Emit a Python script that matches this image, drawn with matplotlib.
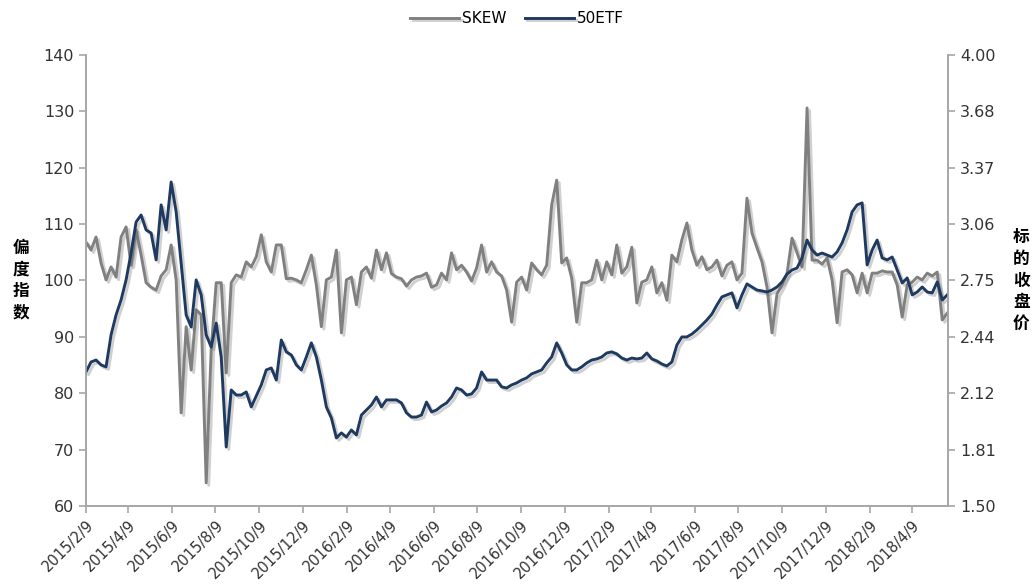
import matplotlib
matplotlib.use('Agg')
import matplotlib.pyplot as plt
import matplotlib.dates as mdates
import matplotlib.patheffects as pe
from matplotlib.ticker import FixedLocator, FuncFormatter
import pandas as pd

# weekly samples, starting 2015/2/9
start_date = '2015-02-09'

skew = [106.8, 105.4, 107.7, 103.1, 100.1, 102.4, 100.6, 107.7, 109.5, 102.7,
        109.0, 104.5, 99.6, 98.8, 98.3, 100.8, 101.9, 106.3, 100.1, 76.5,
        91.8, 84.1, 94.8, 93.9, 64.1, 87.7, 99.6, 99.6, 83.6, 99.6,
        101.0, 100.6, 103.3, 102.4, 104.2, 108.1, 103.3, 101.5, 106.3, 106.3,
        100.3, 100.4, 100.1, 99.6, 101.9, 104.5, 99.2, 91.8, 100.1, 100.6,
        105.4, 90.7, 100.1, 100.6, 95.7, 101.5, 102.4, 100.4, 105.4, 101.9,
        104.9, 101.2, 100.6, 100.3, 99.0, 100.1, 100.6, 100.8, 101.3, 98.8,
        99.2, 101.3, 100.1, 104.9, 101.9, 102.7, 101.5, 99.9, 102.2, 106.3,
        101.5, 103.3, 101.5, 100.8, 98.3, 92.6, 99.7, 100.6, 98.3, 103.1,
        101.9, 101.0, 102.7, 113.4, 117.8, 103.1, 104.0, 100.4, 92.6, 99.6,
        99.6, 100.1, 103.6, 100.1, 103.3, 101.0, 106.3, 101.3, 102.4, 105.9,
        96.0, 99.7, 100.1, 102.4, 97.8, 99.6, 96.5, 104.5, 103.3, 107.2,
        110.2, 105.4, 102.7, 104.2, 101.9, 102.4, 103.6, 100.8, 102.7, 103.3,
        100.1, 101.3, 114.6, 108.4, 105.8, 103.3, 98.8, 90.7, 97.6, 99.2,
        101.2, 107.5, 104.9, 102.4, 130.6, 103.6, 103.6, 102.9, 104.0, 100.1,
        92.5, 101.5, 101.9, 101.0, 97.8, 101.3, 97.8, 101.3, 101.3, 101.7,
        101.5, 101.5, 99.2, 93.5, 99.2, 99.7, 100.6, 100.1, 101.3, 100.8,
        101.5, 93.0, 94.2]

etf = [2.243, 2.298, 2.309, 2.282, 2.271, 2.448, 2.559, 2.642, 2.753, 2.902,
       3.074, 3.113, 3.030, 3.013, 2.864, 3.169, 3.030, 3.296, 3.130, 2.847,
       2.559, 2.492, 2.753, 2.670, 2.448, 2.381, 2.514, 2.326, 1.827, 2.143,
       2.115, 2.115, 2.132, 2.049, 2.110, 2.171, 2.254, 2.265, 2.198, 2.420,
       2.354, 2.337, 2.282, 2.254, 2.326, 2.404, 2.326, 2.198, 2.049, 1.988,
       1.877, 1.905, 1.882, 1.921, 1.894, 2.004, 2.032, 2.060, 2.104, 2.049,
       2.088, 2.088, 2.088, 2.071, 2.016, 1.993, 1.993, 2.004, 2.076, 2.021,
       2.032, 2.054, 2.071, 2.104, 2.154, 2.143, 2.115, 2.121, 2.154, 2.243,
       2.198, 2.198, 2.198, 2.160, 2.154, 2.171, 2.182, 2.198, 2.210, 2.232,
       2.243, 2.254, 2.293, 2.326, 2.404, 2.348, 2.282, 2.254, 2.254, 2.271,
       2.293, 2.309, 2.315, 2.326, 2.348, 2.354, 2.343, 2.320, 2.309, 2.320,
       2.315, 2.320, 2.348, 2.315, 2.304, 2.287, 2.276, 2.298, 2.392, 2.437,
       2.437, 2.453, 2.476, 2.503, 2.531, 2.564, 2.614, 2.659, 2.670, 2.681,
       2.598, 2.670, 2.731, 2.714, 2.697, 2.692, 2.686, 2.697, 2.714, 2.742,
       2.786, 2.808, 2.819, 2.875, 2.974, 2.919, 2.891, 2.902, 2.891, 2.880,
       2.908, 2.958, 3.030, 3.130, 3.169, 3.180, 2.836, 2.919, 2.974, 2.875,
       2.864, 2.880, 2.808, 2.736, 2.764, 2.670, 2.686, 2.714, 2.686, 2.681,
       2.742, 2.642, 2.670]

left_ticks = [60, 70, 80, 90, 100, 110, 120, 130, 140]
right_ticks = [1.50, 1.81, 2.12, 2.44, 2.75, 3.06, 3.37, 3.68, 4.00]

dates = pd.date_range(start_date, periods=len(skew), freq='7D')

plt.rcParams['font.family'] = ['DejaVu Sans', 'Noto Sans CJK SC']

fig = plt.figure(figsize=(10.34, 5.88), dpi=100)
ax = fig.add_axes([0.0832, 0.1395, 0.8336, 0.767])
ax2 = ax.twinx()

gray = '#808080'
navy = '#1F3A60'
shadow = [pe.SimpleLineShadow(offset=(1.8, -1.8), shadow_color='#666666', alpha=0.3),
          pe.Normal()]

l1, = ax.plot(dates, skew, color=gray, lw=2.1, path_effects=shadow)
l2, = ax2.plot(dates, etf, color=navy, lw=2.1, path_effects=shadow)

ax.set_ylim(60, 140)
ax2.set_ylim(1.50, 4.00)
ax.set_xlim(pd.Timestamp('2015-02-09'), pd.Timestamp('2018-05-29'))

ax.yaxis.set_major_locator(FixedLocator(left_ticks))
ax2.yaxis.set_major_locator(FixedLocator([1.50 + i * 0.3125 for i in range(9)]))
ax2.set_yticklabels([f'{v:.2f}' for v in right_ticks])

ax.xaxis.set_major_locator(mdates.MonthLocator(bymonth=[2, 4, 6, 8, 10, 12], bymonthday=9))
ax.xaxis.set_major_formatter(FuncFormatter(
    lambda v, p: (lambda d: f'{d.year}/{d.month}/{d.day}')(mdates.num2date(v))))

spine_c = '#A6A6A6'
for a in (ax, ax2):
    for s in a.spines.values():
        s.set_color(spine_c)
        s.set_linewidth(1.2)
    a.spines['top'].set_visible(False)
    a.tick_params(colors=spine_c, labelcolor='#333333', length=5, width=1.2)
ax.tick_params(axis='y', labelsize=11.5)
ax2.tick_params(axis='y', labelsize=11.5)
ax.tick_params(axis='x', labelsize=10.5)
for lbl in ax.get_xticklabels():
    lbl.set_rotation(45)
    lbl.set_ha('right')
    lbl.set_rotation_mode('anchor')

ax.text(-0.075, 0.5, '\n'.join('偏度指数'), transform=ax.transAxes, ha='center', va='center',
        fontsize=12, fontweight='bold', family=['Noto Sans CJK SC'], linespacing=1.25)
ax2.text(1.085, 0.5, '\n'.join('标的收盘价'), transform=ax.transAxes, ha='center', va='center',
         fontsize=12, fontweight='bold', family=['Noto Sans CJK SC'], linespacing=1.25)

fig.legend([l1, l2], ['SKEW', '50ETF'], loc='center', bbox_to_anchor=(0.5, 0.968), ncol=2,
           frameon=False, fontsize=11, handlelength=3.2, handletextpad=0.2, columnspacing=1.2)

fig.savefig('out.png', dpi=100)
